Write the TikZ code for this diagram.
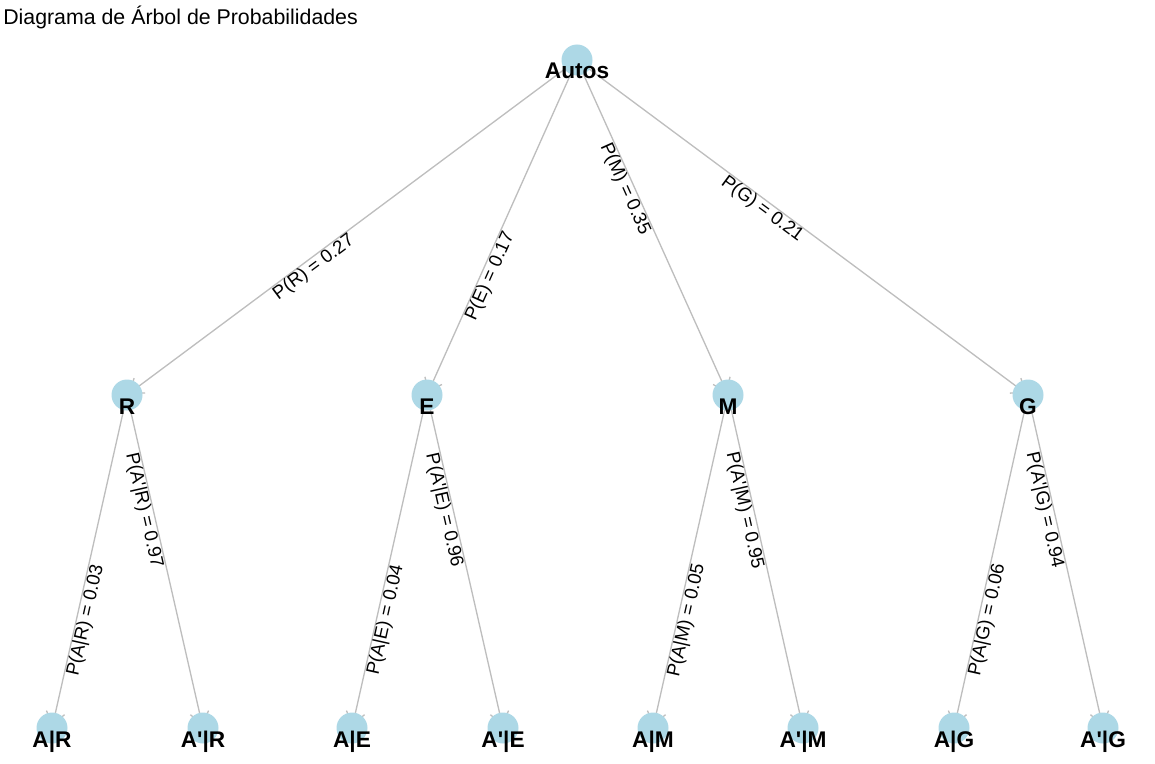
\documentclass[tikz,border=0pt]{standalone}
\usepackage{fontspec}
\setmainfont{Liberation Sans}
\usetikzlibrary{positioning, arrows.meta, backgrounds}

\definecolor{nodeblue}{RGB}{173,216,230}
\definecolor{edgegray}{RGB}{190,190,190}

\begin{document}
\begin{tikzpicture}[
    x=0.75pt, y=-0.75pt,
    vertex/.style={
      circle, fill=nodeblue, minimum size=23.25pt, inner sep=0pt
    },
    vname/.style={
      font=\bfseries\fontsize{17}{19}\selectfont, anchor=base, inner sep=0pt, yshift=-14.25pt
    },
    prob/.style={
      font=\fontsize{14}{16}\selectfont, sloped, anchor=north, inner sep=0pt
    },
    edge/.style={
      draw=edgegray, line width=1pt, shorten >=2pt,
      -{Straight Barb[length=9pt, width=14pt, line width=1pt]}
    },
  ]
    \useasboundingbox (0,0) rectangle (1155,763);

    % title
    \node [anchor=base west, inner sep=0pt, font=\fontsize{16}{18}\selectfont] (title) at (3,25) {Diagrama de Árbol de Probabilidades};

    % root and first level
    \node [vertex] (autos) at (577,60) {};
    \node [vertex] (r) at (127,395) {};
    \node [vertex] (e) at (427,395) {};
    \node [vertex] (m) at (728,395) {};
    \node [vertex] (g) at (1028,395) {};

    % leaves
    \node [vertex] (a_r) at (52,728) {};
    \node [vertex] (ap_r) at (203,728) {};
    \node [vertex] (a_e) at (352,728) {};
    \node [vertex] (ap_e) at (503,728) {};
    \node [vertex] (a_m) at (653,728) {};
    \node [vertex] (ap_m) at (803,728) {};
    \node [vertex] (a_g) at (954,728) {};
    \node [vertex] (ap_g) at (1103,728) {};

    % names
    \node [vname] (autos_txt) at (autos.center) {Autos};
    \node [vname] (r_txt) at (r.center) {R};
    \node [vname] (e_txt) at (e.center) {E};
    \node [vname] (m_txt) at (m.center) {M};
    \node [vname] (g_txt) at (g.center) {G};
    \node [vname] (a_r_txt) at (a_r.center) {A|R};
    \node [vname] (ap_r_txt) at (ap_r.center) {A\textquotesingle|R};
    \node [vname] (a_e_txt) at (a_e.center) {A|E};
    \node [vname] (ap_e_txt) at (ap_e.center) {A\textquotesingle|E};
    \node [vname] (a_m_txt) at (a_m.center) {A|M};
    \node [vname] (ap_m_txt) at (ap_m.center) {A\textquotesingle|M};
    \node [vname] (a_g_txt) at (a_g.center) {A|G};
    \node [vname] (ap_g_txt) at (ap_g.center) {A\textquotesingle|G};

    % edges, behind the circles
    \begin{scope}[on background layer]
      \draw [edge] (autos.center) -- node [prob, pos=.597] (p_r) {P(R) = 0.27} (r.center);
      \draw [edge] (autos.center) -- node [prob, pos=.635] (p_e) {P(E) = 0.17} (e.center);
      \draw [edge] (autos.center) -- node [prob, pos=.374] (p_m) {P(M) = 0.35} (m.center);
      \draw [edge] (autos.center) -- node [prob, pos=.423] (p_g) {P(G) = 0.21} (g.center);

      \draw [edge] (r.center) -- node [prob, pos=.67] (p_a_r) {P(A|R) = 0.03} (a_r.center);
      \draw [edge] (r.center) -- node [prob, pos=.34] (p_ap_r) {P(A\textquotesingle|R) = 0.97} (ap_r.center);
      \draw [edge] (e.center) -- node [prob, pos=.67] (p_a_e) {P(A|E) = 0.04} (a_e.center);
      \draw [edge] (e.center) -- node [prob, pos=.34] (p_ap_e) {P(A\textquotesingle|E) = 0.96} (ap_e.center);
      \draw [edge] (m.center) -- node [prob, pos=.67] (p_a_m) {P(A|M) = 0.05} (a_m.center);
      \draw [edge] (m.center) -- node [prob, pos=.34] (p_ap_m) {P(A\textquotesingle|M) = 0.95} (ap_m.center);
      \draw [edge] (g.center) -- node [prob, pos=.67] (p_a_g) {P(A|G) = 0.06} (a_g.center);
      \draw [edge] (g.center) -- node [prob, pos=.34] (p_ap_g) {P(A\textquotesingle|G) = 0.94} (ap_g.center);
    \end{scope}

  \end{tikzpicture}
\end{document}
